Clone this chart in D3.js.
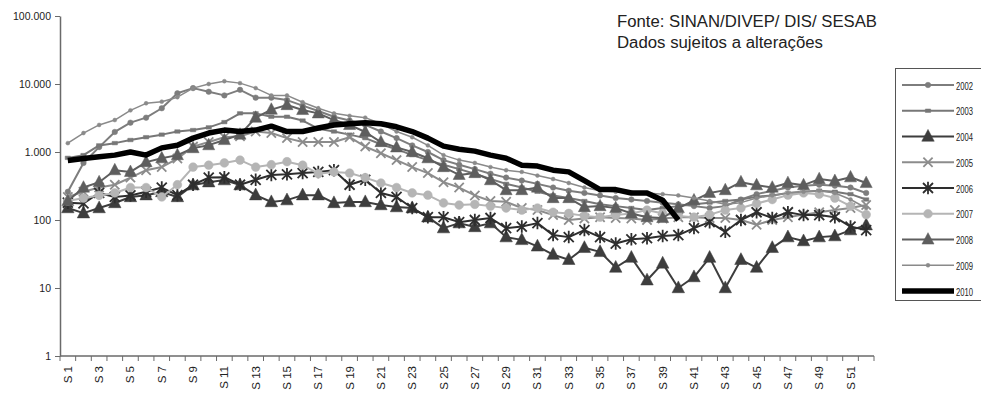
<!DOCTYPE html>
<html><head><meta charset="utf-8">
<script src="https://cdn.jsdelivr.net/npm/d3@7"></script>
<style>
html,body{margin:0;padding:0;background:#fff;}
svg{display:block;font-family:"Liberation Sans",Arial,sans-serif;}
</style></head>
<body><svg id="c" width="981" height="400"></svg>
<script>
const weeks = ["S 1","S 2","S 3","S 4","S 5","S 6","S 7","S 8","S 9","S 10","S 11","S 12","S 13","S 14","S 15","S 16","S 17","S 18","S 19","S 20","S 21","S 22","S 23","S 24","S 25","S 26","S 27","S 28","S 29","S 30","S 31","S 32","S 33","S 34","S 35","S 36","S 37","S 38","S 39","S 40","S 41","S 42","S 43","S 44","S 45","S 46","S 47","S 48","S 49","S 50","S 51","S 52"];
const yTickValues = [1,10,100,1000,10000,100000];
const yTickLabels = ["1","10","100","1.000","10.000","100.000"];
const years = ["2002","2003","2004","2005","2006","2007","2008","2009","2010"];

const y2002 = [260,690,1180,1970,2700,3200,4400,7300,8700,7700,6800,8200,6300,6300,5800,4800,4000,3300,2900,2500,2000,1600,1250,1000,760,650,560,480,420,380,340,300,270,250,230,210,200,190,180,170,160,150,160,200,240,270,300,320,330,320,300,250];
const y2003 = [820,900,1250,1350,1500,1650,1800,2000,2100,2300,2750,3700,3700,3300,3300,2900,2200,2000,1800,1600,1300,1100,900,760,650,560,480,400,340,300,260,230,210,190,170,160,150,140,150,160,170,180,190,200,220,230,250,260,270,260,240,200];
const y2004 = [150,126,150,178,218,232,258,218,326,360,386,326,232,184,196,232,232,178,184,184,166,155,150,110,76,90,79,90,56,51,41,31,26,39,34,20,28,13,23,10,14.5,28,10,26,20,39,56,49,56,58,71,84];
const y2005 = [218,260,300,330,420,540,600,800,1200,1400,1650,1700,2000,1900,1600,1400,1400,1400,1650,1200,960,760,600,490,360,300,230,190,185,150,140,118,100,105,110,107,105,100,105,110,110,107,107,100,85,100,110,120,130,140,150,166];
const y2006 = [180,175,250,218,230,260,300,232,330,420,425,330,390,460,470,490,510,540,330,390,250,218,150,110,110,93,100,107,76,80,90,60,56,71,56,45,52,54,58,60,76,93,67,100,130,107,130,118,118,110,80,71];
const y2007 = [190,210,230,250,300,300,218,330,600,640,690,760,600,650,720,640,480,510,490,420,350,300,250,232,178,166,170,160,150,140,150,130,125,115,110,118,125,140,125,115,110,120,140,150,175,200,232,250,240,210,160,120];
const y2008 = [190,300,360,540,510,710,810,900,1140,1260,1500,1800,3200,4200,4900,4150,3700,2950,2500,1970,1400,1170,1000,810,600,460,490,385,275,275,300,210,210,155,160,150,125,110,107,150,195,250,275,360,325,300,350,325,400,375,425,350];
const y2009 = [1350,1900,2500,2950,4100,5200,5500,6400,8700,10000,11000,10300,8700,6800,6800,5400,4400,3700,3400,3200,2600,2000,1650,1250,900,760,690,600,540,510,450,400,350,300,270,260,255,250,240,230,210,190,170,180,210,230,250,260,270,250,200,150];
const y2010 = [750,800,850,900,1000,900,1150,1260,1600,1900,2100,2000,2100,2400,2000,2000,2250,2500,2600,2700,2600,2350,2000,1600,1220,1100,1030,900,810,640,620,540,510,380,280,280,250,250,195,100];

const seriesValues = [y2002,y2003,y2004,y2005,y2006,y2007,y2008,y2009,y2010];

// marker symbol types
const symTri = {draw(ctx,size){const s=Math.sqrt(size);const h=s*0.95;ctx.moveTo(0,-h*0.6);ctx.lineTo(s/2,h*0.4);ctx.lineTo(-s/2,h*0.4);ctx.closePath();}};
const symX = {draw(ctx,size){const r=Math.sqrt(size)/2;ctx.moveTo(-r,-r);ctx.lineTo(r,r);ctx.moveTo(r,-r);ctx.lineTo(-r,r);}};
const symStar = {draw(ctx,size){const r=Math.sqrt(size)/2;ctx.moveTo(-r,-r);ctx.lineTo(r,r);ctx.moveTo(r,-r);ctx.lineTo(-r,r);ctx.moveTo(0,-r*1.25);ctx.lineTo(0,r*1.25);}};
const symRect = {draw(ctx,size){const w=Math.sqrt(size);ctx.rect(-w/2,-w/3,w,w*0.66);}};

const styles = {
 "2002":{color:"#7d7d7d",width:2,sym:d3.symbolCircle,size:24,fill:true},
 "2003":{color:"#777777",width:2,sym:symRect,size:28,fill:true},
 "2004":{color:"#3d3d3d",width:2,sym:symTri,size:155,fill:true},
 "2005":{color:"#8c8c8c",width:2,sym:symX,size:85,fill:false},
 "2006":{color:"#2e2e2e",width:2,sym:symStar,size:100,fill:false},
 "2007":{color:"#b5b5b5",width:2,sym:d3.symbolCircle,size:60,fill:true},
 "2008":{color:"#5e5e5e",width:2,sym:symTri,size:145,fill:true},
 "2009":{color:"#8a8a8a",width:1.5,sym:d3.symbolCircle,size:12,fill:true},
 "2010":{color:"#000000",width:5.5,sym:null,size:0,fill:true}
};

const svg = d3.select("#c");
const x = d3.scaleBand().domain(weeks).range([60,874]);
const y = d3.scaleLog().domain([1,100000]).range([356,16]);
const cx = w => x(w) + x.bandwidth()/2;

// plot series
const plot = svg.append("g");
years.forEach((yr,i)=>{
  const st = styles[yr];
  const pts = seriesValues[i].map((v,j)=>({w:weeks[j],v}));
  const line = d3.line().x(d=>cx(d.w)).y(d=>y(d.v));
  plot.append("path").attr("d",line(pts)).attr("fill","none")
    .attr("stroke",st.color).attr("stroke-width",st.width).attr("stroke-linejoin","round");
  if(st.sym){
    plot.selectAll(null).data(pts).enter().append("path")
      .attr("transform",d=>`translate(${cx(d.w)},${y(d.v)})`)
      .attr("d",d3.symbol().type(st.sym).size(st.size))
      .attr("fill",st.fill?st.color:"none")
      .attr("stroke",st.color).attr("stroke-width",st.fill?0.5:1.8);
  }
});

// y axis
const yAxis = d3.axisLeft(y).tickValues(yTickValues).tickFormat((d,i)=>yTickLabels[i]).tickSize(5).tickSizeOuter(0);
const gy = svg.append("g").attr("transform","translate(60,0)").call(yAxis);
gy.select(".domain").attr("stroke","#6a6a6a").attr("stroke-width",1.5);
gy.selectAll(".tick line").attr("stroke","#6a6a6a");
gy.selectAll(".tick text").attr("font-size",10.5).attr("fill","#222").attr("x",-9)
  .attr("font-family","'Liberation Sans',Arial,sans-serif");

// x axis
const xAxis = d3.axisBottom(x).tickSize(0).tickFormat((d,i)=> i%2===0 ? d : "");
const gx = svg.append("g").attr("transform","translate(0,356)").call(xAxis);
gx.select(".domain").attr("stroke","#6a6a6a").attr("stroke-width",1.5).attr("d","M60,0H874");
gx.selectAll(".tick text").attr("font-size",11.5).attr("fill","#222")
  .attr("font-family","'Liberation Sans',Arial,sans-serif")
  .attr("text-anchor","end").attr("transform","rotate(-90)")
  .attr("x",-10).attr("y",0).attr("dy","0.35em");
// boundary tick marks
gx.selectAll(".bt").data(weeks.concat(["end"])).enter().append("line")
  .attr("x1",(d,i)=> i<weeks.length ? x(d) : 874).attr("x2",(d,i)=> i<weeks.length ? x(d) : 874)
  .attr("y1",0).attr("y2",5).attr("stroke","#6a6a6a");

// legend
const lg = svg.append("g");
lg.append("rect").attr("x",895.5).attr("y",68.5).attr("width",100).attr("height",232)
  .attr("fill","#fff").attr("stroke","#555");
years.forEach((yr,i)=>{
  const st = styles[yr];
  const ly = 85 + i*25.75;
  lg.append("line").attr("x1",902).attr("x2",954).attr("y1",ly).attr("y2",ly)
    .attr("stroke",st.color).attr("stroke-width",st.width);
  if(st.sym){
    lg.append("path").attr("transform",`translate(928,${ly})`)
      .attr("d",d3.symbol().type(st.sym).size(st.size))
      .attr("fill",st.fill?st.color:"none").attr("stroke",st.color).attr("stroke-width",st.fill?0.5:1.8);
  }
  lg.append("text").attr("x",956).attr("y",ly+4.5).attr("font-size",10.5)
    .attr("textLength",17).attr("lengthAdjust","spacingAndGlyphs").attr("fill","#222").text(yr);
});

// source note
svg.append("text").attr("x",617).attr("y",27).attr("font-size",16).attr("textLength",260).attr("lengthAdjust","spacingAndGlyphs").attr("fill","#222").text("Fonte: SINAN/DIVEP/ DIS/ SESAB");
svg.append("text").attr("x",617).attr("y",48).attr("font-size",16).attr("textLength",206).attr("lengthAdjust","spacingAndGlyphs").attr("fill","#222").text("Dados sujeitos a alterações");
</script></body></html>
